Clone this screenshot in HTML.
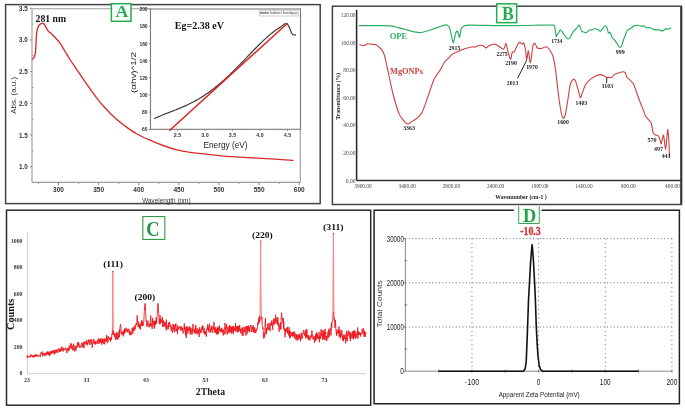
<!DOCTYPE html>
<html><head><meta charset="utf-8"><title>Figure</title>
<style>html,body{margin:0;padding:0;background:#fff;width:685px;height:408px;overflow:hidden;font-family:"Liberation Sans",sans-serif}svg{display:block;will-change:transform}</style>
</head><body>
<svg width="685" height="408" viewBox="0 0 685 408"><rect x="5.6" y="4.6" width="314.6" height="199" stroke="#444" stroke-width="1.5" fill="none"/>
<line x1="32" y1="8.7" x2="32" y2="182.4" stroke="#9c9c9c" stroke-width="1.1"/>
<line x1="32" y1="182.4" x2="300.3" y2="182.4" stroke="#9c9c9c" stroke-width="1.1"/>
<line x1="32" y1="8.7" x2="150.5" y2="8.7" stroke="#9c9c9c" stroke-width="1.1"/>
<line x1="300.3" y1="8.7" x2="300.3" y2="182.4" stroke="#9c9c9c" stroke-width="1.1"/>
<line x1="30" y1="8.3" x2="32" y2="8.3" stroke="#777" stroke-width="0.9"/>
<text x="27.9" y="10.8" font-family='"Liberation Sans", sans-serif' font-size="7.2" font-weight="bold" fill="#333" text-anchor="end" textLength="8.8" lengthAdjust="spacingAndGlyphs">3.5</text>
<line x1="30" y1="39.9" x2="32" y2="39.9" stroke="#777" stroke-width="0.9"/>
<text x="27.9" y="42.4" font-family='"Liberation Sans", sans-serif' font-size="7.2" font-weight="bold" fill="#333" text-anchor="end" textLength="8.8" lengthAdjust="spacingAndGlyphs">3.0</text>
<line x1="30" y1="71.6" x2="32" y2="71.6" stroke="#777" stroke-width="0.9"/>
<text x="27.9" y="74.1" font-family='"Liberation Sans", sans-serif' font-size="7.2" font-weight="bold" fill="#333" text-anchor="end" textLength="8.8" lengthAdjust="spacingAndGlyphs">2.5</text>
<line x1="30" y1="103.3" x2="32" y2="103.3" stroke="#777" stroke-width="0.9"/>
<text x="27.9" y="105.8" font-family='"Liberation Sans", sans-serif' font-size="7.2" font-weight="bold" fill="#333" text-anchor="end" textLength="8.8" lengthAdjust="spacingAndGlyphs">2.0</text>
<line x1="30" y1="135" x2="32" y2="135" stroke="#777" stroke-width="0.9"/>
<text x="27.9" y="137.5" font-family='"Liberation Sans", sans-serif' font-size="7.2" font-weight="bold" fill="#333" text-anchor="end" textLength="8.8" lengthAdjust="spacingAndGlyphs">1.5</text>
<line x1="30" y1="166.7" x2="32" y2="166.7" stroke="#777" stroke-width="0.9"/>
<text x="27.9" y="169.2" font-family='"Liberation Sans", sans-serif' font-size="7.2" font-weight="bold" fill="#333" text-anchor="end" textLength="8.8" lengthAdjust="spacingAndGlyphs">1.0</text>
<line x1="32" y1="24.05" x2="33.5" y2="24.05" stroke="#888" stroke-width="0.8"/>
<line x1="32" y1="55.75" x2="33.5" y2="55.75" stroke="#888" stroke-width="0.8"/>
<line x1="32" y1="87.45" x2="33.5" y2="87.45" stroke="#888" stroke-width="0.8"/>
<line x1="32" y1="119.15" x2="33.5" y2="119.15" stroke="#888" stroke-width="0.8"/>
<line x1="32" y1="150.85" x2="33.5" y2="150.85" stroke="#888" stroke-width="0.8"/>
<line x1="58.5" y1="182.4" x2="58.5" y2="185.2" stroke="#777" stroke-width="0.9"/>
<text x="58.5" y="192.3" font-family='"Liberation Sans", sans-serif' font-size="7.2" font-weight="bold" fill="#333" text-anchor="middle" textLength="10.9" lengthAdjust="spacingAndGlyphs">300</text>
<line x1="98.62" y1="182.4" x2="98.62" y2="185.2" stroke="#777" stroke-width="0.9"/>
<text x="98.62" y="192.3" font-family='"Liberation Sans", sans-serif' font-size="7.2" font-weight="bold" fill="#333" text-anchor="middle" textLength="10.9" lengthAdjust="spacingAndGlyphs">350</text>
<line x1="138.74" y1="182.4" x2="138.74" y2="185.2" stroke="#777" stroke-width="0.9"/>
<text x="138.74" y="192.3" font-family='"Liberation Sans", sans-serif' font-size="7.2" font-weight="bold" fill="#333" text-anchor="middle" textLength="10.9" lengthAdjust="spacingAndGlyphs">400</text>
<line x1="178.86" y1="182.4" x2="178.86" y2="185.2" stroke="#777" stroke-width="0.9"/>
<text x="178.86" y="192.3" font-family='"Liberation Sans", sans-serif' font-size="7.2" font-weight="bold" fill="#333" text-anchor="middle" textLength="10.9" lengthAdjust="spacingAndGlyphs">450</text>
<line x1="218.98" y1="182.4" x2="218.98" y2="185.2" stroke="#777" stroke-width="0.9"/>
<text x="218.98" y="192.3" font-family='"Liberation Sans", sans-serif' font-size="7.2" font-weight="bold" fill="#333" text-anchor="middle" textLength="10.9" lengthAdjust="spacingAndGlyphs">500</text>
<line x1="259.1" y1="182.4" x2="259.1" y2="185.2" stroke="#777" stroke-width="0.9"/>
<text x="259.1" y="192.3" font-family='"Liberation Sans", sans-serif' font-size="7.2" font-weight="bold" fill="#333" text-anchor="middle" textLength="10.9" lengthAdjust="spacingAndGlyphs">550</text>
<line x1="299.22" y1="182.4" x2="299.22" y2="185.2" stroke="#777" stroke-width="0.9"/>
<text x="299.22" y="192.3" font-family='"Liberation Sans", sans-serif' font-size="7.2" font-weight="bold" fill="#333" text-anchor="middle" textLength="10.9" lengthAdjust="spacingAndGlyphs">600</text>
<line x1="38.44" y1="182.4" x2="38.44" y2="184" stroke="#888" stroke-width="0.8"/>
<line x1="78.56" y1="182.4" x2="78.56" y2="184" stroke="#888" stroke-width="0.8"/>
<line x1="118.68" y1="182.4" x2="118.68" y2="184" stroke="#888" stroke-width="0.8"/>
<line x1="158.8" y1="182.4" x2="158.8" y2="184" stroke="#888" stroke-width="0.8"/>
<line x1="198.92" y1="182.4" x2="198.92" y2="184" stroke="#888" stroke-width="0.8"/>
<line x1="239.04" y1="182.4" x2="239.04" y2="184" stroke="#888" stroke-width="0.8"/>
<line x1="279.16" y1="182.4" x2="279.16" y2="184" stroke="#888" stroke-width="0.8"/>
<text x="142.3" y="203.2" font-family='"Liberation Sans", sans-serif' font-size="6.5" font-weight="normal" fill="#333" text-anchor="start" textLength="48.2" lengthAdjust="spacingAndGlyphs">Wavelength (nm)</text>
<text x="15.8" y="95.3" font-family='"Liberation Sans", sans-serif' font-size="7.6" font-weight="normal" fill="#333" text-anchor="middle" textLength="37" lengthAdjust="spacingAndGlyphs" transform="rotate(-90 15.8 95.3)">Abs. (a.u.)</text>
<path d="M32.2 59.3 C32.57 58.88 33.83 58.15 34.4 56.8 C34.97 55.45 35.23 55.08 35.6 51.2 C35.97 47.32 36.18 37.55 36.6 33.5 C37.02 29.45 37.6 28.37 38.1 26.9 C38.6 25.43 38.87 25.32 39.6 24.7 C40.33 24.08 41.77 23.32 42.5 23.2 C43.23 23.08 43.02 22.65 44 24 C44.98 25.35 47.18 29.72 48.4 31.3 C49.62 32.88 49.47 31.65 51.3 33.5 C53.13 35.35 57.25 39.65 59.4 42.4 C61.55 45.15 62.43 47.15 64.2 50 C65.97 52.85 67.75 56.03 70 59.5 C72.25 62.97 75.53 67.62 77.7 70.8 C79.87 73.98 81.17 75.93 83 78.6 C84.83 81.27 86.37 83.52 88.7 86.8 C91.03 90.08 94.13 94.63 97 98.3 C99.87 101.97 102.78 105.42 105.9 108.8 C109.02 112.18 112.52 115.73 115.7 118.6 C118.88 121.47 121.58 123.52 125 126 C128.42 128.48 132.03 131.13 136.2 133.5 C140.37 135.87 145.53 138.2 150 140.2 C154.47 142.2 158.5 143.88 163 145.5 C167.5 147.12 172.5 148.77 177 149.9 C181.5 151.03 185.52 151.63 190 152.3 C194.48 152.97 199.4 153.38 203.9 153.9 C208.4 154.42 212.5 154.95 217 155.4 C221.5 155.85 226.4 156.27 230.9 156.6 C235.4 156.93 239.52 157.15 244 157.4 C248.48 157.65 252.63 157.8 257.8 158.1 C262.97 158.4 269.17 158.82 275 159.2 C280.83 159.58 289.83 160.2 292.8 160.4" stroke="#d92b2b" stroke-width="1.35" fill="none" stroke-linejoin="round" stroke-linecap="round"/>
<text x="35.6" y="22.2" font-family='"Liberation Serif", serif' font-size="9.8" font-weight="bold" fill="#111" text-anchor="start" textLength="30.4" lengthAdjust="spacingAndGlyphs">281 nm</text>
<rect x="150.5" y="9" width="150" height="120.3" stroke="#7a7a7a" stroke-width="1.1" fill="#fff"/>
<line x1="148.8" y1="129.3" x2="150.5" y2="129.3" stroke="#777" stroke-width="0.8"/>
<text x="147.6" y="131.3" font-family='"Liberation Sans", sans-serif' font-size="5.8" font-weight="bold" fill="#333" text-anchor="end" textLength="5.5" lengthAdjust="spacingAndGlyphs">60</text>
<line x1="148.8" y1="112.14" x2="150.5" y2="112.14" stroke="#777" stroke-width="0.8"/>
<text x="147.6" y="114.14" font-family='"Liberation Sans", sans-serif' font-size="5.8" font-weight="bold" fill="#333" text-anchor="end" textLength="5.5" lengthAdjust="spacingAndGlyphs">80</text>
<line x1="148.8" y1="94.98" x2="150.5" y2="94.98" stroke="#777" stroke-width="0.8"/>
<text x="147.6" y="96.98" font-family='"Liberation Sans", sans-serif' font-size="5.8" font-weight="bold" fill="#333" text-anchor="end" textLength="8.2" lengthAdjust="spacingAndGlyphs">100</text>
<line x1="148.8" y1="77.82" x2="150.5" y2="77.82" stroke="#777" stroke-width="0.8"/>
<text x="147.6" y="79.82" font-family='"Liberation Sans", sans-serif' font-size="5.8" font-weight="bold" fill="#333" text-anchor="end" textLength="8.2" lengthAdjust="spacingAndGlyphs">120</text>
<line x1="148.8" y1="60.66" x2="150.5" y2="60.66" stroke="#777" stroke-width="0.8"/>
<text x="147.6" y="62.66" font-family='"Liberation Sans", sans-serif' font-size="5.8" font-weight="bold" fill="#333" text-anchor="end" textLength="8.2" lengthAdjust="spacingAndGlyphs">140</text>
<line x1="148.8" y1="43.5" x2="150.5" y2="43.5" stroke="#777" stroke-width="0.8"/>
<text x="147.6" y="45.5" font-family='"Liberation Sans", sans-serif' font-size="5.8" font-weight="bold" fill="#333" text-anchor="end" textLength="8.2" lengthAdjust="spacingAndGlyphs">160</text>
<line x1="148.8" y1="26.34" x2="150.5" y2="26.34" stroke="#777" stroke-width="0.8"/>
<text x="147.6" y="28.34" font-family='"Liberation Sans", sans-serif' font-size="5.8" font-weight="bold" fill="#333" text-anchor="end" textLength="8.2" lengthAdjust="spacingAndGlyphs">180</text>
<line x1="148.8" y1="9.18" x2="150.5" y2="9.18" stroke="#777" stroke-width="0.8"/>
<text x="147.6" y="11.18" font-family='"Liberation Sans", sans-serif' font-size="5.8" font-weight="bold" fill="#333" text-anchor="end" textLength="8.2" lengthAdjust="spacingAndGlyphs">200</text>
<line x1="149.6" y1="120.72" x2="150.5" y2="120.72" stroke="#888" stroke-width="0.6"/>
<line x1="149.6" y1="103.56" x2="150.5" y2="103.56" stroke="#888" stroke-width="0.6"/>
<line x1="149.6" y1="86.4" x2="150.5" y2="86.4" stroke="#888" stroke-width="0.6"/>
<line x1="149.6" y1="69.24" x2="150.5" y2="69.24" stroke="#888" stroke-width="0.6"/>
<line x1="149.6" y1="52.08" x2="150.5" y2="52.08" stroke="#888" stroke-width="0.6"/>
<line x1="149.6" y1="34.92" x2="150.5" y2="34.92" stroke="#888" stroke-width="0.6"/>
<line x1="149.6" y1="17.76" x2="150.5" y2="17.76" stroke="#888" stroke-width="0.6"/>
<line x1="177.4" y1="129.3" x2="177.4" y2="131" stroke="#777" stroke-width="0.8"/>
<text x="177.4" y="136.8" font-family='"Liberation Sans", sans-serif' font-size="5.8" font-weight="bold" fill="#333" text-anchor="middle" textLength="7.4" lengthAdjust="spacingAndGlyphs">2.5</text>
<line x1="204.9" y1="129.3" x2="204.9" y2="131" stroke="#777" stroke-width="0.8"/>
<text x="204.9" y="136.8" font-family='"Liberation Sans", sans-serif' font-size="5.8" font-weight="bold" fill="#333" text-anchor="middle" textLength="7.4" lengthAdjust="spacingAndGlyphs">3.0</text>
<line x1="232.4" y1="129.3" x2="232.4" y2="131" stroke="#777" stroke-width="0.8"/>
<text x="232.4" y="136.8" font-family='"Liberation Sans", sans-serif' font-size="5.8" font-weight="bold" fill="#333" text-anchor="middle" textLength="7.4" lengthAdjust="spacingAndGlyphs">3.5</text>
<line x1="259.9" y1="129.3" x2="259.9" y2="131" stroke="#777" stroke-width="0.8"/>
<text x="259.9" y="136.8" font-family='"Liberation Sans", sans-serif' font-size="5.8" font-weight="bold" fill="#333" text-anchor="middle" textLength="7.4" lengthAdjust="spacingAndGlyphs">4.0</text>
<line x1="287.4" y1="129.3" x2="287.4" y2="131" stroke="#777" stroke-width="0.8"/>
<text x="287.4" y="136.8" font-family='"Liberation Sans", sans-serif' font-size="5.8" font-weight="bold" fill="#333" text-anchor="middle" textLength="7.4" lengthAdjust="spacingAndGlyphs">4.5</text>
<line x1="163.65" y1="129.3" x2="163.65" y2="130.3" stroke="#888" stroke-width="0.6"/>
<line x1="191.15" y1="129.3" x2="191.15" y2="130.3" stroke="#888" stroke-width="0.6"/>
<line x1="218.65" y1="129.3" x2="218.65" y2="130.3" stroke="#888" stroke-width="0.6"/>
<line x1="246.15" y1="129.3" x2="246.15" y2="130.3" stroke="#888" stroke-width="0.6"/>
<line x1="273.65" y1="129.3" x2="273.65" y2="130.3" stroke="#888" stroke-width="0.6"/>
<text x="203.4" y="147.6" font-family='"Liberation Sans", sans-serif' font-size="8.4" font-weight="normal" fill="#222" text-anchor="start" textLength="44.2" lengthAdjust="spacingAndGlyphs">Energy (eV)</text>
<text x="136.2" y="72.5" font-family='"Liberation Sans", sans-serif' font-size="7.8" font-weight="normal" fill="#222" text-anchor="middle" textLength="41" lengthAdjust="spacingAndGlyphs" transform="rotate(-90 136.2 72.5)">(&#945;hv)^1/2</text>
<rect x="259.3" y="10.8" width="39.2" height="5.2" stroke="#b0b0b0" stroke-width="0.6" fill="#fff"/>
<line x1="259.8" y1="12.9" x2="268.9" y2="12.9" stroke="#555" stroke-width="1.2"/>
<text x="269.7" y="14.4" font-family='"Liberation Sans", sans-serif' font-size="4" font-weight="normal" fill="#444" text-anchor="start" textLength="27.8" lengthAdjust="spacingAndGlyphs">Indirect bandgap</text>
<path d="M154.6 118.42 C154.93 118.26 155.93 117.8 156.6 117.5 C157.27 117.2 157.93 116.91 158.6 116.62 C159.27 116.33 159.93 116.05 160.6 115.78 C161.27 115.5 161.93 115.23 162.6 114.96 C163.27 114.69 163.93 114.43 164.6 114.16 C165.27 113.9 165.93 113.64 166.6 113.38 C167.27 113.12 167.93 112.87 168.6 112.61 C169.27 112.35 169.93 112.1 170.6 111.84 C171.27 111.59 171.93 111.33 172.6 111.07 C173.27 110.81 173.93 110.56 174.6 110.29 C175.27 110.03 175.93 109.77 176.6 109.5 C177.27 109.24 177.93 108.97 178.6 108.7 C179.27 108.43 179.93 108.15 180.6 107.87 C181.27 107.59 181.93 107.31 182.6 107.02 C183.27 106.73 183.93 106.44 184.6 106.14 C185.27 105.85 185.93 105.54 186.6 105.23 C187.27 104.93 187.93 104.61 188.6 104.29 C189.27 103.97 189.93 103.64 190.6 103.31 C191.27 102.97 191.93 102.63 192.6 102.29 C193.27 101.94 193.93 101.58 194.6 101.22 C195.27 100.86 195.93 100.49 196.6 100.11 C197.27 99.74 197.93 99.35 198.6 98.96 C199.27 98.57 199.93 98.16 200.6 97.76 C201.27 97.35 201.93 96.93 202.6 96.5 C203.27 96.08 203.93 95.65 204.6 95.2 C205.27 94.76 205.93 94.31 206.6 93.85 C207.27 93.39 207.93 92.93 208.6 92.45 C209.27 91.97 209.93 91.49 210.6 91 C211.27 90.5 211.93 90 212.6 89.49 C213.27 88.98 213.93 88.46 214.6 87.94 C215.27 87.41 215.93 86.88 216.6 86.33 C217.27 85.79 217.93 85.24 218.6 84.68 C219.27 84.12 219.93 83.55 220.6 82.98 C221.27 82.41 221.93 81.82 222.6 81.23 C223.27 80.64 223.93 80.05 224.6 79.44 C225.27 78.84 225.93 78.23 226.6 77.61 C227.27 76.99 227.93 76.37 228.6 75.73 C229.27 75.1 229.93 74.47 230.6 73.82 C231.27 73.18 231.93 72.53 232.6 71.88 C233.27 71.22 233.93 70.56 234.6 69.9 C235.27 69.24 235.93 68.57 236.6 67.9 C237.27 67.22 237.93 66.55 238.6 65.87 C239.27 65.19 239.93 64.5 240.6 63.82 C241.27 63.13 241.93 62.44 242.6 61.75 C243.27 61.06 243.93 60.37 244.6 59.67 C245.27 58.98 245.93 58.28 246.6 57.59 C247.27 56.89 247.93 56.19 248.6 55.5 C249.27 54.8 249.93 54.11 250.6 53.42 C251.27 52.72 251.93 52.03 252.6 51.34 C253.27 50.65 253.93 49.96 254.6 49.28 C255.27 48.6 255.93 47.92 256.6 47.24 C257.27 46.57 257.93 45.89 258.6 45.23 C259.27 44.56 259.93 43.9 260.6 43.25 C261.27 42.6 261.93 41.95 262.6 41.31 C263.27 40.67 263.93 40.04 264.6 39.42 C265.27 38.8 265.93 38.19 266.6 37.59 C267.27 36.99 267.93 36.4 268.6 35.82 C269.27 35.24 269.93 34.67 270.6 34.12 C271.27 33.56 271.93 33.02 272.6 32.5 C273.27 31.97 273.93 31.46 274.6 30.96 C275.27 30.47 275.93 29.99 276.6 29.53 C277.27 29.07 277.93 28.62 278.6 28.2 C279.27 27.77 279.93 27.43 280.6 26.98 C281.27 26.53 281.95 26 282.6 25.5 C283.25 25 283.9 24.32 284.5 24 C285.1 23.68 285.65 23.5 286.2 23.6 C286.75 23.7 287.33 24.07 287.8 24.6 C288.27 25.13 288.58 25.92 289 26.8 C289.42 27.68 289.87 28.87 290.3 29.9 C290.73 30.93 291.15 32.22 291.6 33 C292.05 33.78 292.35 34.23 293 34.6 C293.65 34.97 295.08 35.1 295.5 35.2" stroke="#3a3a3a" stroke-width="1.2" fill="none" stroke-linejoin="round" stroke-linecap="round"/>
<line x1="169.3" y1="130.7" x2="287.5" y2="23.2" stroke="#e01f1f" stroke-width="1.5"/>
<text x="174.8" y="28.7" font-family='"Liberation Serif", serif' font-size="10" font-weight="bold" fill="#111" text-anchor="start" textLength="49.2" lengthAdjust="spacingAndGlyphs">Eg=2.38 eV</text>
<rect x="111.4" y="3.7" width="19.6" height="17.6" stroke="#1fae4b" stroke-width="1.5" fill="#fff"/>
<text x="121.85" y="17.4" font-family='"Liberation Serif", serif' font-size="17" font-weight="bold" fill="#1fae4b" text-anchor="middle" textLength="12.9" lengthAdjust="spacingAndGlyphs">A</text>
<rect x="332.4" y="6.2" width="348.9" height="198.3" stroke="#444" stroke-width="1.5" fill="none"/>
<line x1="681.3" y1="6.2" x2="681.3" y2="204.5" stroke="#333" stroke-width="2"/>
<line x1="356.6" y1="9.8" x2="356.6" y2="180.5" stroke="#222" stroke-width="1.5"/>
<line x1="356.6" y1="180.5" x2="681.3" y2="180.5" stroke="#333" stroke-width="1.4"/>
<text x="355.5" y="182.5" font-family='"Liberation Serif", serif' font-size="6.5" font-weight="normal" fill="#444" text-anchor="end" textLength="9.8" lengthAdjust="spacingAndGlyphs">0.00</text>
<text x="355.5" y="154.9" font-family='"Liberation Serif", serif' font-size="6.5" font-weight="normal" fill="#444" text-anchor="end" textLength="12.2" lengthAdjust="spacingAndGlyphs">20.00</text>
<text x="355.5" y="127.3" font-family='"Liberation Serif", serif' font-size="6.5" font-weight="normal" fill="#444" text-anchor="end" textLength="12.2" lengthAdjust="spacingAndGlyphs">40.00</text>
<text x="355.5" y="99.7" font-family='"Liberation Serif", serif' font-size="6.5" font-weight="normal" fill="#444" text-anchor="end" textLength="12.2" lengthAdjust="spacingAndGlyphs">60.00</text>
<text x="355.5" y="72.1" font-family='"Liberation Serif", serif' font-size="6.5" font-weight="normal" fill="#444" text-anchor="end" textLength="12.2" lengthAdjust="spacingAndGlyphs">80.00</text>
<text x="355.5" y="44.5" font-family='"Liberation Serif", serif' font-size="6.5" font-weight="normal" fill="#444" text-anchor="end" textLength="14.7" lengthAdjust="spacingAndGlyphs">100.00</text>
<text x="355.5" y="16.9" font-family='"Liberation Serif", serif' font-size="6.5" font-weight="normal" fill="#444" text-anchor="end" textLength="14.7" lengthAdjust="spacingAndGlyphs">120.00</text>
<text x="363" y="188" font-family='"Liberation Serif", serif' font-size="5.6" font-weight="normal" fill="#444" text-anchor="middle" textLength="17.4" lengthAdjust="spacingAndGlyphs">3900.00</text>
<text x="407.2" y="188" font-family='"Liberation Serif", serif' font-size="5.6" font-weight="normal" fill="#444" text-anchor="middle" textLength="17.4" lengthAdjust="spacingAndGlyphs">3400.00</text>
<text x="451.4" y="188" font-family='"Liberation Serif", serif' font-size="5.6" font-weight="normal" fill="#444" text-anchor="middle" textLength="17.4" lengthAdjust="spacingAndGlyphs">2900.00</text>
<text x="495.6" y="188" font-family='"Liberation Serif", serif' font-size="5.6" font-weight="normal" fill="#444" text-anchor="middle" textLength="17.4" lengthAdjust="spacingAndGlyphs">2400.00</text>
<text x="539.8" y="188" font-family='"Liberation Serif", serif' font-size="5.6" font-weight="normal" fill="#444" text-anchor="middle" textLength="17.4" lengthAdjust="spacingAndGlyphs">1900.00</text>
<text x="584" y="188" font-family='"Liberation Serif", serif' font-size="5.6" font-weight="normal" fill="#444" text-anchor="middle" textLength="17.4" lengthAdjust="spacingAndGlyphs">1400.00</text>
<text x="628.2" y="188" font-family='"Liberation Serif", serif' font-size="5.6" font-weight="normal" fill="#444" text-anchor="middle" textLength="14.8" lengthAdjust="spacingAndGlyphs">900.00</text>
<text x="672.4" y="188" font-family='"Liberation Serif", serif' font-size="5.6" font-weight="normal" fill="#444" text-anchor="middle" textLength="14.8" lengthAdjust="spacingAndGlyphs">400.00</text>
<text x="495.3" y="199.2" font-family='"Liberation Serif", serif' font-size="6" font-weight="bold" fill="#222" text-anchor="start" textLength="51.3" lengthAdjust="spacingAndGlyphs">Wavenumber (cm-1 )</text>
<text x="340.2" y="96.3" font-family='"Liberation Serif", serif' font-size="5.6" font-weight="bold" fill="#222" text-anchor="middle" textLength="47" lengthAdjust="spacingAndGlyphs" transform="rotate(-90 340.2 96.3)">Transmittance (%)</text>
<path d="M359.4 25.7 C361.48 25.7 370.8 25.67 375 25.7 C379.2 25.73 386.9 25.39 390.9 25.9 C394.9 26.41 401.16 28.61 405 29.5 C408.84 30.39 416.1 32.6 419.7 32.6 C423.3 32.6 428.71 30.5 432 29.5 C435.29 28.5 442.2 25.55 444.4 25.1 C446.6 24.65 447.69 25.29 448.5 26.1 C449.31 26.91 449.87 29 450.5 31.2 C451.13 33.4 452.57 42.07 453.2 42.6 C453.83 43.13 454.75 36.72 455.2 35.2 C455.65 33.68 456.24 31.65 456.6 31.2 C456.96 30.75 457.51 30.97 457.9 31.8 C458.29 32.63 459.05 37.84 459.5 37.4 C459.95 36.96 460.62 30.05 461.3 28.5 C461.98 26.95 463.44 26.25 464.6 25.8 C465.76 25.35 465.28 25.13 470 25.1 C474.72 25.07 492.67 25.55 500 25.6 C507.33 25.65 519.67 25.57 525 25.5 C530.33 25.43 536.2 25.15 540 25.1 C543.8 25.05 551.53 24.83 553.5 25.1 C555.47 25.37 554.44 25.57 554.8 27.1 C555.16 28.63 555.84 35.69 556.2 36.6 C556.56 37.51 557.14 34.45 557.5 33.9 C557.86 33.35 558.54 33.05 558.9 32.5 C559.26 31.95 559.84 29.97 560.2 29.8 C560.56 29.63 561.15 30.65 561.6 31.2 C562.05 31.75 563.07 33.18 563.6 33.9 C564.13 34.62 564.97 35.92 565.6 36.6 C566.23 37.28 567.67 38.92 568.3 39 C568.93 39.08 569.67 38.16 570.3 37.2 C570.93 36.24 572.19 32.96 573 31.8 C573.81 30.64 575.59 29.39 576.4 28.5 C577.21 27.61 578.57 25.19 579.1 25.1 C579.63 25.01 580.04 26.99 580.4 27.8 C580.76 28.61 581.25 30.6 581.8 31.2 C582.35 31.8 583.87 32.13 584.5 32.3 C585.13 32.47 586.06 32.62 586.5 32.5 C586.94 32.38 587.35 31.76 587.8 31.4 C588.25 31.04 589.35 30.01 589.9 29.8 C590.45 29.59 591.46 29.88 591.9 29.8 C592.34 29.72 592.75 29.37 593.2 29.2 C593.65 29.03 594.75 28.5 595.3 28.5 C595.85 28.5 596.77 28.93 597.3 29.2 C597.83 29.47 598.86 30.25 599.3 30.5 C599.74 30.75 599.85 31.71 600.6 31.1 C601.35 30.49 604.07 26.39 604.9 25.9 C605.73 25.41 606.33 26.45 606.8 27.4 C607.27 28.35 607.96 32.33 608.4 33 C608.84 33.67 609.57 31.73 610.1 32.4 C610.63 33.07 611.76 36.93 612.4 38 C613.04 39.07 613.83 39.13 614.9 40.4 C615.97 41.67 619.16 47.82 620.4 47.5 C621.64 47.18 623.28 40.27 624.2 38 C625.12 35.73 626.47 31.75 627.3 30.5 C628.13 29.25 629.49 29.21 630.4 28.6 C631.31 27.99 632.95 26.31 634.1 25.9 C635.25 25.49 637.93 25.43 639 25.5 C640.07 25.57 641.43 26.35 642.1 26.4 C642.77 26.45 643.49 25.77 644 25.9 C644.51 26.03 644.99 27.12 645.9 27.4 C646.81 27.68 649.73 27.71 650.8 28 C651.87 28.29 652.82 29.35 653.9 29.6 C654.98 29.85 657.74 29.73 658.9 29.9 C660.06 30.07 661.61 31.07 662.6 30.9 C663.59 30.73 665.55 28.81 666.3 28.6 C667.05 28.39 667.61 29.38 668.2 29.3 C668.79 29.22 670.37 28.17 670.7 28" stroke="#2fae68" stroke-width="1.2" fill="none" stroke-linejoin="round" stroke-linecap="round"/>
<path d="M359.7 44.8 C360.31 44.89 363.22 45.63 364.3 45.5 C365.38 45.37 366.87 43.96 367.8 43.8 C368.73 43.64 370.22 44.17 371.3 44.3 C372.38 44.43 374.66 44.24 375.9 44.8 C377.14 45.36 379.6 47.49 380.6 48.5 C381.6 49.51 382.79 51.09 383.4 52.4 C384.01 53.71 384.49 55.35 385.2 58.3 C385.91 61.25 387.61 69.54 388.7 74.5 C389.79 79.46 392 90.22 393.4 95.5 C394.8 100.78 397.65 110.54 399.2 114.1 C400.75 117.66 403.83 120.87 405 122.2 C406.17 123.53 407.23 124.1 408 124.1 C408.77 124.1 409.49 123.07 410.8 122.2 C412.11 121.33 416.25 119 417.8 117.6 C419.35 116.2 421 114.65 422.4 111.7 C423.8 108.75 426.74 99.83 428.3 95.5 C429.86 91.17 432.49 82.65 434.1 79.2 C435.71 75.75 439.03 71.87 440.4 69.6 C441.77 67.33 443.32 63.73 444.4 62.2 C445.48 60.67 447.42 59.18 448.5 58.1 C449.58 57.02 451.42 54.9 452.5 54.1 C453.58 53.3 455.33 52.67 456.6 52.1 C457.87 51.53 460.57 50.35 462 49.8 C463.43 49.25 465.87 48.41 467.3 48 C468.73 47.59 471.7 46.79 472.7 46.7 C473.7 46.61 474.08 47.43 474.8 47.3 C475.52 47.17 477.21 45.97 478.1 45.7 C478.99 45.43 480.78 45.26 481.5 45.3 C482.22 45.34 482.87 45.64 483.5 46 C484.13 46.36 485.48 48.04 486.2 48 C486.92 47.96 487.67 46.21 488.9 45.7 C490.13 45.19 493.45 43.75 495.4 44.2 C497.35 44.65 502.1 49.21 503.5 49.1 C504.9 48.99 505.37 43.31 505.9 43.4 C506.43 43.49 506.89 47.68 507.5 49.8 C508.11 51.92 509.87 58.94 510.5 59.3 C511.13 59.66 511.69 53.5 512.2 52.5 C512.71 51.5 513.66 52.69 514.3 51.8 C514.94 50.91 516.29 47.05 517 45.8 C517.71 44.55 518.89 42.61 519.6 42.4 C520.31 42.19 521.75 44.11 522.3 44.2 C522.85 44.29 523.25 42.17 523.7 43.1 C524.15 44.03 525.3 48.96 525.7 51.2 C526.1 53.44 526.34 59.94 526.7 59.9 C527.06 59.86 527.91 50.54 528.4 50.9 C528.89 51.26 529.77 63.37 530.4 62.6 C531.03 61.83 532.46 47.61 533.1 45.1 C533.74 42.59 534.65 43.44 535.2 43.8 C535.75 44.16 536.4 47.17 537.2 47.8 C538 48.43 540.03 48.65 541.2 48.5 C542.37 48.35 545.09 46.77 546 46.7 C546.91 46.63 547.27 47.2 548 48 C548.73 48.8 550.77 51.35 551.5 52.7 C552.23 54.05 552.97 55.85 553.5 58.1 C554.03 60.35 554.85 64.77 555.5 69.6 C556.15 74.43 557.67 88.71 558.4 94.3 C559.13 99.89 560.37 108.3 561 111.5 C561.63 114.7 562.53 117.85 563.1 118.3 C563.67 118.75 564.66 117.41 565.3 114.9 C565.94 112.39 567.22 103.62 567.9 99.5 C568.58 95.38 569.65 86.71 570.4 84 C571.15 81.29 572.81 79.55 573.5 79.2 C574.19 78.85 574.97 79.96 575.6 81.4 C576.23 82.84 577.56 87.83 578.2 90 C578.84 92.17 579.84 97.35 580.4 97.7 C580.96 98.05 581.67 94.43 582.4 92.6 C583.13 90.77 584.75 85.83 585.9 84 C587.05 82.17 589.63 79.99 591 78.9 C592.37 77.81 594.93 76.37 596.2 75.8 C597.47 75.23 599.47 74.6 600.5 74.6 C601.53 74.6 603.1 75.41 603.9 75.8 C604.7 76.19 605.82 77.31 606.5 77.5 C607.18 77.69 608.32 77.17 609 77.2 C609.68 77.23 610.91 78.05 611.6 77.7 C612.29 77.35 613.28 75.24 614.2 74.6 C615.12 73.96 617.29 73.29 618.5 72.9 C619.71 72.51 622.39 71.7 623.3 71.7 C624.21 71.7 624.81 72.17 625.3 72.9 C625.79 73.63 626.31 76.17 627 77.2 C627.69 78.23 629.58 79.57 630.5 80.6 C631.42 81.63 632.71 82.27 633.9 84.9 C635.09 87.53 638.2 97.1 639.4 100.3 C640.6 103.5 642.1 106.85 642.9 108.9 C643.7 110.95 644.6 114.22 645.4 115.7 C646.2 117.18 648.1 118.97 648.9 120 C649.7 121.03 650.95 122.25 651.4 123.4 C651.85 124.55 652.06 127.29 652.3 128.6 C652.54 129.91 652.75 132.36 653.2 133.2 C653.65 134.04 655.02 134.54 655.7 134.9 C656.38 135.26 657.73 135.26 658.3 135.9 C658.87 136.54 659.61 138.62 660 139.7 C660.39 140.78 660.91 144 661.2 144 C661.49 144 661.91 140.91 662.2 139.7 C662.49 138.49 663.12 134.9 663.4 134.9 C663.68 134.9 664.02 137.79 664.3 139.7 C664.58 141.61 665.21 148.96 665.5 149.2 C665.79 149.44 666.21 144.13 666.5 141.5 C666.79 138.87 667.39 129.74 667.7 129.5 C668.01 129.26 668.56 136.05 668.8 139.7 C669.04 143.35 669.41 154.61 669.5 156.9" stroke="#cc4040" stroke-width="1.1" fill="none" stroke-linejoin="round" stroke-linecap="round"/>
<line x1="517.6" y1="78.4" x2="526.7" y2="60.2" stroke="#111" stroke-width="0.9"/>
<line x1="606.9" y1="77.4" x2="606.5" y2="83.2" stroke="#111" stroke-width="0.9"/>
<text x="454.5" y="49.9" font-family='"Liberation Serif", serif' font-size="5.6" font-weight="bold" fill="#222" text-anchor="middle" textLength="11.6" lengthAdjust="spacingAndGlyphs">2915</text>
<text x="556.8" y="42.9" font-family='"Liberation Serif", serif' font-size="5.6" font-weight="bold" fill="#222" text-anchor="middle" textLength="11.2" lengthAdjust="spacingAndGlyphs">1734</text>
<text x="620.3" y="54.3" font-family='"Liberation Serif", serif' font-size="5.6" font-weight="bold" fill="#222" text-anchor="middle" textLength="9" lengthAdjust="spacingAndGlyphs">999</text>
<text x="409" y="130" font-family='"Liberation Serif", serif' font-size="5.6" font-weight="bold" fill="#222" text-anchor="middle" textLength="11.6" lengthAdjust="spacingAndGlyphs">3363</text>
<text x="502" y="55.9" font-family='"Liberation Serif", serif' font-size="5.6" font-weight="bold" fill="#222" text-anchor="middle" textLength="11.2" lengthAdjust="spacingAndGlyphs">2275</text>
<text x="511.1" y="65.3" font-family='"Liberation Serif", serif' font-size="5.6" font-weight="bold" fill="#222" text-anchor="middle" textLength="11.9" lengthAdjust="spacingAndGlyphs">2190</text>
<text x="532" y="69.3" font-family='"Liberation Serif", serif' font-size="5.6" font-weight="bold" fill="#222" text-anchor="middle" textLength="11.7" lengthAdjust="spacingAndGlyphs">1970</text>
<text x="512.6" y="85.2" font-family='"Liberation Serif", serif' font-size="5.6" font-weight="bold" fill="#222" text-anchor="middle" textLength="11.5" lengthAdjust="spacingAndGlyphs">2013</text>
<text x="563.1" y="124.3" font-family='"Liberation Serif", serif' font-size="5.6" font-weight="bold" fill="#222" text-anchor="middle" textLength="11.6" lengthAdjust="spacingAndGlyphs">1600</text>
<text x="581.4" y="104.9" font-family='"Liberation Serif", serif' font-size="5.6" font-weight="bold" fill="#222" text-anchor="middle" textLength="11.6" lengthAdjust="spacingAndGlyphs">1403</text>
<text x="607.4" y="88.1" font-family='"Liberation Serif", serif' font-size="5.6" font-weight="bold" fill="#222" text-anchor="middle" textLength="11.3" lengthAdjust="spacingAndGlyphs">1103</text>
<text x="652" y="141.8" font-family='"Liberation Serif", serif' font-size="5.6" font-weight="bold" fill="#222" text-anchor="middle" textLength="9.2" lengthAdjust="spacingAndGlyphs">570</text>
<text x="658.5" y="151.3" font-family='"Liberation Serif", serif' font-size="5.6" font-weight="bold" fill="#222" text-anchor="middle" textLength="9" lengthAdjust="spacingAndGlyphs">497</text>
<text x="666" y="157.5" font-family='"Liberation Serif", serif' font-size="5.6" font-weight="bold" fill="#222" text-anchor="middle" textLength="8.7" lengthAdjust="spacingAndGlyphs">443</text>
<text x="389.7" y="38.6" font-family='"Liberation Serif", serif' font-size="8.8" font-weight="bold" fill="#2fae68" text-anchor="start" textLength="17.4" lengthAdjust="spacingAndGlyphs">OPE</text>
<text x="390.1" y="73.5" font-family='"Liberation Serif", serif' font-size="8.8" font-weight="bold" fill="#cc4040" text-anchor="start" textLength="32.8" lengthAdjust="spacingAndGlyphs">MgONPs</text>
<rect x="496.65" y="3.85" width="20" height="18.8" stroke="#1fae4b" stroke-width="1.5" fill="rgba(255,255,255,0.85)"/>
<text x="507.8" y="19.9" font-family='"Liberation Serif", serif' font-size="19" font-weight="bold" fill="#1fae4b" text-anchor="middle" textLength="11.8" lengthAdjust="spacingAndGlyphs">B</text>
<rect x="6.5" y="210.2" width="364.2" height="195" stroke="#2a2a2a" stroke-width="1.5" fill="none"/>
<line x1="27.4" y1="232" x2="27.4" y2="373.7" stroke="#cfcfcf" stroke-width="1"/>
<line x1="27.4" y1="373.7" x2="365.6" y2="373.7" stroke="#cfcfcf" stroke-width="1"/>
<text x="22.5" y="375.4" font-family='"Liberation Serif", serif' font-size="5.6" font-weight="bold" fill="#333" text-anchor="end" textLength="2.9" lengthAdjust="spacingAndGlyphs">0</text>
<text x="22.5" y="348.82" font-family='"Liberation Serif", serif' font-size="5.6" font-weight="bold" fill="#333" text-anchor="end" textLength="8.7" lengthAdjust="spacingAndGlyphs">200</text>
<text x="22.5" y="322.24" font-family='"Liberation Serif", serif' font-size="5.6" font-weight="bold" fill="#333" text-anchor="end" textLength="8.7" lengthAdjust="spacingAndGlyphs">400</text>
<text x="22.5" y="295.66" font-family='"Liberation Serif", serif' font-size="5.6" font-weight="bold" fill="#333" text-anchor="end" textLength="8.7" lengthAdjust="spacingAndGlyphs">600</text>
<text x="22.5" y="269.08" font-family='"Liberation Serif", serif' font-size="5.6" font-weight="bold" fill="#333" text-anchor="end" textLength="8.7" lengthAdjust="spacingAndGlyphs">800</text>
<text x="22.5" y="242.5" font-family='"Liberation Serif", serif' font-size="5.6" font-weight="bold" fill="#333" text-anchor="end" textLength="11.6" lengthAdjust="spacingAndGlyphs">1000</text>
<text x="27" y="382.4" font-family='"Liberation Serif", serif' font-size="5.6" font-weight="bold" fill="#333" text-anchor="middle" textLength="5.8" lengthAdjust="spacingAndGlyphs">23</text>
<text x="86.5" y="382.4" font-family='"Liberation Serif", serif' font-size="5.6" font-weight="bold" fill="#333" text-anchor="middle" textLength="5.8" lengthAdjust="spacingAndGlyphs">33</text>
<text x="146" y="382.4" font-family='"Liberation Serif", serif' font-size="5.6" font-weight="bold" fill="#333" text-anchor="middle" textLength="5.8" lengthAdjust="spacingAndGlyphs">43</text>
<text x="205.5" y="382.4" font-family='"Liberation Serif", serif' font-size="5.6" font-weight="bold" fill="#333" text-anchor="middle" textLength="5.8" lengthAdjust="spacingAndGlyphs">53</text>
<text x="265" y="382.4" font-family='"Liberation Serif", serif' font-size="5.6" font-weight="bold" fill="#333" text-anchor="middle" textLength="5.8" lengthAdjust="spacingAndGlyphs">63</text>
<text x="324.5" y="382.4" font-family='"Liberation Serif", serif' font-size="5.6" font-weight="bold" fill="#333" text-anchor="middle" textLength="5.8" lengthAdjust="spacingAndGlyphs">73</text>
<text x="195.8" y="395" font-family='"Liberation Serif", serif' font-size="10" font-weight="bold" fill="#222" text-anchor="start" textLength="29.2" lengthAdjust="spacingAndGlyphs">2Theta</text>
<text x="13.6" y="314.3" font-family='"Liberation Serif", serif' font-size="10.2" font-weight="bold" fill="#111" text-anchor="middle" textLength="31.3" lengthAdjust="spacingAndGlyphs" transform="rotate(-90 13.6 314.3)">Counts</text>
<text x="113" y="266.6" font-family='"Liberation Serif", serif' font-size="8.6" font-weight="bold" fill="#111" text-anchor="middle" textLength="19.7" lengthAdjust="spacingAndGlyphs">(111)</text>
<text x="144.9" y="300.3" font-family='"Liberation Serif", serif' font-size="8.6" font-weight="bold" fill="#111" text-anchor="middle" textLength="20.8" lengthAdjust="spacingAndGlyphs">(200)</text>
<text x="262.4" y="237.9" font-family='"Liberation Serif", serif' font-size="8.6" font-weight="bold" fill="#111" text-anchor="middle" textLength="20.8" lengthAdjust="spacingAndGlyphs">(220)</text>
<text x="333.3" y="229.8" font-family='"Liberation Serif", serif' font-size="8.6" font-weight="bold" fill="#111" text-anchor="middle" textLength="20.6" lengthAdjust="spacingAndGlyphs">(311)</text>
<rect x="142.85" y="216.55" width="22" height="22.9" stroke="#2f9a4a" stroke-width="1.1" fill="#fff"/>
<text x="152.8" y="235.7" font-family='"Liberation Serif", serif' font-size="20.5" font-weight="bold" fill="#1f9440" text-anchor="middle" textLength="13.3" lengthAdjust="spacingAndGlyphs">C</text>
<path d="M27 355.77 L27.22 357.99 L27.44 356.42 L27.66 356.08 L27.88 355.91 L28.1 356.29 L28.32 355.98 L28.54 356.84 L28.76 356.8 L28.98 356.81 L29.2 356.49 L29.42 357.21 L29.64 356.25 L29.86 356.93 L30.08 357.11 L30.3 357.23 L30.52 354.66 L30.74 355.49 L30.96 355.12 L31.18 356.35 L31.4 354.64 L31.62 355.38 L31.84 355.9 L32.06 355.68 L32.28 356.87 L32.5 355.79 L32.72 356.73 L32.94 355.2 L33.16 354.96 L33.38 357.72 L33.6 356.71 L33.82 356.43 L34.04 355.96 L34.26 356.21 L34.48 354.92 L34.7 356.79 L34.92 355.31 L35.14 356.31 L35.36 355.4 L35.58 354.02 L35.8 354.34 L36.02 356.55 L36.24 355.57 L36.46 354.86 L36.68 355.51 L36.9 355.37 L37.12 354.62 L37.34 355.19 L37.56 355.28 L37.78 356.34 L38 355.27 L38.22 356.96 L38.44 356.47 L38.66 356.76 L38.88 356.39 L39.1 355.8 L39.32 356.17 L39.54 355.84 L39.76 355.15 L39.98 355.19 L40.2 354.79 L40.42 356.64 L40.64 355.4 L40.86 354.02 L41.08 352.34 L41.3 354.03 L41.52 354.19 L41.74 352.84 L41.96 352.4 L42.18 351.55 L42.4 354.87 L42.62 354.42 L42.84 356.3 L43.06 352.93 L43.28 353.12 L43.5 354.57 L43.72 353.01 L43.94 353.54 L44.16 353.43 L44.38 353.2 L44.6 355.35 L44.82 354.92 L45.04 356.09 L45.26 354 L45.48 354.35 L45.7 353.38 L45.92 354.5 L46.14 352.43 L46.36 354.62 L46.58 355.15 L46.8 354.56 L47.02 351.84 L47.24 354.27 L47.46 351.66 L47.68 351.61 L47.9 351.44 L48.12 353.57 L48.34 354.75 L48.56 352.5 L48.78 352.17 L49 352.68 L49.22 355.91 L49.44 354.23 L49.66 352.88 L49.88 351.12 L50.1 352.11 L50.32 354.5 L50.54 355.15 L50.76 352.37 L50.98 352.24 L51.2 352.9 L51.42 351 L51.64 353.45 L51.86 351.15 L52.08 353.49 L52.3 350.24 L52.52 351.28 L52.74 352.52 L52.96 351.78 L53.18 352.9 L53.4 351.69 L53.62 350.6 L53.84 353.06 L54.06 353.52 L54.28 350.28 L54.5 354.46 L54.72 352.79 L54.94 353.15 L55.16 349.81 L55.38 351.08 L55.6 351.57 L55.82 353.05 L56.04 350.18 L56.26 350.87 L56.48 350.08 L56.7 351.97 L56.92 352.15 L57.14 349.31 L57.36 350.42 L57.58 351.96 L57.8 352.9 L58.02 351.78 L58.24 351.19 L58.46 348.74 L58.68 348.51 L58.9 348.98 L59.12 350.15 L59.34 349.96 L59.56 351.83 L59.78 350.38 L60 348.72 L60.22 351.65 L60.44 351.91 L60.66 350.75 L60.88 349.24 L61.1 347.6 L61.32 348.46 L61.54 350.8 L61.76 347.38 L61.98 346.7 L62.2 349.26 L62.42 348.88 L62.64 349.47 L62.86 350.09 L63.08 351.47 L63.3 349.17 L63.52 350.59 L63.74 347.87 L63.96 349.93 L64.18 349.57 L64.4 350.11 L64.62 349.72 L64.84 349.04 L65.06 349.87 L65.28 349.97 L65.5 348.33 L65.72 347.61 L65.94 347.98 L66.16 348.16 L66.38 348.63 L66.6 349.16 L66.82 353.13 L67.04 349.8 L67.26 350.57 L67.48 348.6 L67.7 348.35 L67.92 349.92 L68.14 349.62 L68.36 348.09 L68.58 351.27 L68.8 348.1 L69.02 350.47 L69.24 345.59 L69.46 348.87 L69.68 348.27 L69.9 347.34 L70.12 348.27 L70.34 347.33 L70.56 346.74 L70.78 343.27 L71 345.78 L71.22 343.89 L71.44 348.77 L71.66 347.68 L71.88 346.9 L72.1 345.39 L72.32 346.15 L72.54 350.37 L72.76 349.58 L72.98 347.71 L73.2 349.92 L73.42 345.41 L73.64 343.71 L73.86 346.55 L74.08 345.81 L74.3 345.88 L74.52 347.16 L74.74 351.48 L74.96 346.76 L75.18 347.08 L75.4 347.92 L75.62 348.04 L75.84 349.91 L76.06 350.69 L76.28 345.51 L76.5 347.94 L76.72 347.1 L76.94 347.86 L77.16 345.55 L77.38 344.74 L77.6 342.45 L77.82 346.56 L78.04 345.14 L78.26 345.6 L78.48 342.11 L78.7 344.83 L78.92 344.29 L79.14 343.75 L79.36 344.46 L79.58 347.55 L79.8 347.05 L80.02 346.54 L80.24 347.87 L80.46 346.59 L80.68 346.77 L80.9 346.84 L81.12 346.24 L81.34 344.54 L81.56 343.36 L81.78 344.13 L82 342.67 L82.22 347.33 L82.44 344.6 L82.66 344.52 L82.88 347.2 L83.1 346.01 L83.32 342.29 L83.54 345.72 L83.76 346.07 L83.98 348.09 L84.2 346.78 L84.42 344.98 L84.64 341.47 L84.86 342.57 L85.08 343.37 L85.3 343.49 L85.52 341.68 L85.74 343.12 L85.96 342.98 L86.18 344.08 L86.4 344.44 L86.62 342.58 L86.84 340.12 L87.06 344.01 L87.28 345.32 L87.5 342.24 L87.72 343.71 L87.94 342.49 L88.16 342.21 L88.38 342.22 L88.6 339.77 L88.82 342.61 L89.04 342.24 L89.26 339.7 L89.48 344.5 L89.7 343.92 L89.92 344.38 L90.14 344.81 L90.36 341.66 L90.58 339.76 L90.8 339.95 L91.02 339.64 L91.24 341.99 L91.46 342.32 L91.68 343.94 L91.9 339.42 L92.12 347.58 L92.34 347.67 L92.56 343.65 L92.78 343.33 L93 343.49 L93.22 343.52 L93.44 341.34 L93.66 339.51 L93.8 339 L93.88 339.16 L94.1 340.69 L94.32 343.68 L94.54 341.21 L94.76 343.02 L94.98 343.91 L95.2 344.37 L95.42 341.39 L95.64 344.21 L95.86 344.25 L96.08 343.28 L96.3 341.55 L96.52 341.64 L96.74 341.82 L96.96 343.22 L97.18 343.93 L97.4 340.61 L97.62 340.32 L97.84 342.14 L98.06 341.21 L98.28 338.69 L98.5 340.79 L98.72 342.44 L98.94 343.93 L99.16 338.53 L99.38 339.28 L99.6 342.34 L99.82 340.14 L100.04 342.59 L100.26 342.72 L100.48 341.97 L100.7 338.79 L100.92 341.26 L101.14 340.84 L101.36 341.5 L101.58 340.11 L101.8 344.68 L102.02 338.16 L102.24 340.38 L102.46 340.85 L102.68 342.66 L102.9 339.31 L103.12 340.8 L103.34 340.13 L103.56 343.04 L103.78 343.82 L104 338.72 L104.22 341.5 L104.44 339.32 L104.66 343.86 L104.88 344.35 L105.1 340.99 L105.32 338.58 L105.54 339.81 L105.76 340.78 L105.98 340.73 L106.2 340.62 L106.42 334.97 L106.64 337.19 L106.86 341.65 L107.08 336.7 L107.3 341.66 L107.52 343.12 L107.74 340.54 L107.96 341.68 L108.18 338.66 L108.4 336.17 L108.62 337.94 L108.84 337.81 L109.06 338.08 L109.28 339.72 L109.5 338.07 L109.72 338.88 L109.94 339.25 L110.16 337.53 L110.38 341.65 L110.6 339.55 L110.82 338.9 L111.04 337.89 L111.26 337.08 L111.48 340.05 L111.7 336.12 L111.92 333.73 L112.14 334.12 L112.36 334.43 L112.58 310.99 L112.8 271 L113.02 308.68 L113.24 334.51 L113.46 334.93 L113.68 331.53 L113.9 333.9 L114.12 334.39 L114.34 336.23 L114.56 334.5 L114.78 337.18 L115 333.42 L115.22 334.37 L115.44 338.48 L115.66 339.94 L115.88 337.99 L116.1 337 L116.32 339.19 L116.54 332.12 L116.76 335.15 L116.98 337.75 L117.2 338.31 L117.42 334.89 L117.64 333.39 L117.86 339.74 L118.08 338.25 L118.3 335.91 L118.52 336.61 L118.74 337.43 L118.96 330.86 L119.18 337.21 L119.4 335.89 L119.62 329.37 L119.84 332.92 L120.06 326.03 L120.28 325.74 L120.5 324 L120.72 326.26 L120.94 327.8 L121.16 330.75 L121.38 334.54 L121.6 331.75 L121.82 331.87 L122.04 332.75 L122.26 333.39 L122.48 331.96 L122.7 334.67 L122.92 334.58 L123.14 333.83 L123.36 336.39 L123.58 331.95 L123.8 334.19 L124.02 330.12 L124.24 333.73 L124.46 328.53 L124.68 333.08 L124.9 332.07 L125.12 330.29 L125.34 331.52 L125.56 332.25 L125.78 331.98 L126 327.73 L126.22 330.8 L126.44 329.39 L126.66 330.14 L126.88 329.66 L127.1 330.11 L127.32 332.24 L127.54 330.67 L127.76 328.95 L127.98 331.96 L128.2 330.97 L128.42 331.08 L128.64 331.24 L128.86 328.87 L129.08 330.15 L129.3 333.83 L129.52 331.14 L129.74 333.41 L129.96 335.32 L130.18 334.18 L130.4 332.48 L130.62 334.55 L130.84 331.52 L131.06 333.76 L131.28 334.79 L131.5 334.42 L131.72 333.35 L131.94 328.43 L132.16 328.21 L132.38 329.54 L132.6 331.59 L132.82 333.64 L133.04 327.07 L133.26 330.82 L133.48 328.4 L133.7 328.39 L133.92 328.76 L134.14 330.77 L134.36 327.84 L134.58 329.6 L134.8 325.32 L135.02 328.42 L135.24 328.91 L135.46 327.26 L135.68 327.09 L135.9 324.77 L136.12 323.43 L136.34 324.91 L136.56 323.48 L136.78 324.33 L137 316.92 L137.2 315.5 L137.22 315.52 L137.44 317.95 L137.66 322.96 L137.88 323.24 L138.1 326.88 L138.32 326 L138.54 321.61 L138.76 325.56 L138.98 325.69 L139.2 325.37 L139.42 328.16 L139.64 324.46 L139.86 326.25 L140.08 328.63 L140.3 324.55 L140.52 329.59 L140.74 323.46 L140.96 324.07 L141.18 325.55 L141.4 321.22 L141.62 323.29 L141.84 320.17 L142.06 325.22 L142.28 322.21 L142.5 325.75 L142.72 321.65 L142.94 326.04 L143.16 324.27 L143.38 324.14 L143.6 323.23 L143.82 321.18 L144.04 316.87 L144.26 311.39 L144.48 310.11 L144.7 305.81 L144.92 303.5 L145 303.3 L145.14 303.8 L145.36 306.78 L145.58 310.84 L145.8 314.4 L146.02 320.04 L146.24 321.64 L146.46 320.54 L146.68 321.8 L146.9 326.71 L147.12 323.12 L147.34 325.65 L147.56 324.76 L147.78 320.64 L148 321.61 L148.22 324.39 L148.44 324.66 L148.66 325.11 L148.88 325.84 L149.1 327.35 L149.32 324.15 L149.54 323.87 L149.76 326.57 L149.98 323.67 L150.2 325.57 L150.42 318.72 L150.64 315.84 L150.7 315.5 L150.86 316.9 L151.08 324.61 L151.3 326.76 L151.52 325.85 L151.74 323.3 L151.96 323.21 L152.18 329.02 L152.4 324.88 L152.62 317.98 L152.84 322.53 L153.06 320.81 L153.28 324.45 L153.5 323.72 L153.72 322.76 L153.94 322.86 L154.16 327.07 L154.38 320.98 L154.6 328.62 L154.82 322.09 L155.04 320.9 L155.26 325.14 L155.48 324.74 L155.7 320.64 L155.92 323.48 L156.14 317.64 L156.36 318.86 L156.58 323.73 L156.8 319.95 L157.02 315.72 L157.24 314.9 L157.46 310.58 L157.68 305.86 L157.9 303.52 L158 303.3 L158.12 303.7 L158.34 306.58 L158.56 312.53 L158.78 314.52 L159 317.21 L159.22 321.83 L159.44 323.76 L159.66 319.05 L159.88 324.21 L160.1 315.32 L160.32 323.4 L160.54 319.82 L160.76 322.54 L160.98 322.98 L161.2 319.36 L161.42 320.27 L161.64 320.63 L161.86 321.86 L162.08 318.15 L162.3 317.81 L162.52 316.93 L162.74 326.93 L162.96 321.91 L163.18 322.83 L163.4 320.46 L163.62 326.43 L163.84 323.1 L164.06 326.44 L164.28 325.29 L164.5 323.99 L164.72 325.37 L164.94 321.52 L165.16 324.26 L165.38 323.32 L165.6 322.71 L165.82 327.38 L166.04 326.62 L166.26 330.44 L166.48 319.63 L166.7 326.95 L166.92 326.41 L167.14 327.85 L167.36 328.95 L167.58 328.72 L167.8 327.74 L168.02 325.14 L168.24 328.68 L168.46 329.05 L168.68 322.54 L168.9 326.85 L169.12 324.12 L169.34 324 L169.56 322.91 L169.7 322 L169.78 322.28 L170 324.24 L170.22 326.7 L170.44 324.87 L170.66 327 L170.88 327.13 L171.1 330.34 L171.32 330.9 L171.54 326.51 L171.76 327.44 L171.98 328 L172.2 330.02 L172.42 333.07 L172.64 330.48 L172.86 324.08 L173.08 325.24 L173.3 324.24 L173.52 328.82 L173.74 327.95 L173.96 327.67 L174.18 331.19 L174.4 325 L174.62 325.61 L174.84 332.19 L175.06 328.54 L175.28 325.82 L175.5 323.95 L175.72 326.22 L175.94 323.57 L176.16 329.96 L176.38 329.09 L176.6 331.3 L176.82 329.24 L177.04 329.01 L177.26 328.25 L177.48 334.12 L177.7 325.6 L177.92 328.77 L178.14 328.56 L178.36 329.5 L178.58 327.6 L178.8 328.9 L179.02 328.32 L179.24 326.63 L179.46 326.52 L179.68 327 L179.9 326.21 L180.12 327.87 L180.34 327.29 L180.56 329.08 L180.78 330.54 L181 330.25 L181.22 326.49 L181.44 329.93 L181.66 329.18 L181.88 330.64 L182.1 328.41 L182.32 329.37 L182.54 329.05 L182.76 327.54 L182.98 333.3 L183.2 333.36 L183.42 331.64 L183.64 331.05 L183.86 331.31 L184.08 328.3 L184.3 323.4 L184.52 330 L184.74 329.7 L184.96 328.41 L185.18 329.48 L185.4 334.46 L185.62 326.91 L185.84 335.76 L186.06 332.93 L186.28 337.99 L186.5 329.02 L186.72 330.09 L186.94 325.96 L187.16 328.64 L187.38 327.68 L187.6 327.39 L187.82 333.56 L188.04 328.79 L188.26 329 L188.48 330.98 L188.7 327.64 L188.92 327.48 L189.14 330.1 L189.36 328.44 L189.58 326.43 L189.8 329.06 L190.02 329.58 L190.24 334.52 L190.46 327.49 L190.68 332.92 L190.9 328.37 L191.12 328.33 L191.34 329.7 L191.56 331.37 L191.78 331.8 L192 334.84 L192.22 329.17 L192.44 332.18 L192.66 330.56 L192.88 325.28 L193 324 L193.1 324.99 L193.32 328.43 L193.54 329.9 L193.76 329.54 L193.98 331.77 L194.2 332.57 L194.42 332.9 L194.64 329.66 L194.86 333.09 L195.08 333.74 L195.3 327.84 L195.52 331.88 L195.74 325 L195.96 330.49 L196.18 331.89 L196.4 333.66 L196.62 330.6 L196.84 330.08 L197.06 328.78 L197.28 328.13 L197.5 334.24 L197.72 331.34 L197.94 330.81 L198.16 332.77 L198.38 329.47 L198.6 329.94 L198.82 329.78 L199.04 335.75 L199.26 336.97 L199.48 331.74 L199.7 327.35 L199.92 332.08 L200.14 330.4 L200.36 331.46 L200.58 332.36 L200.8 329.75 L201.02 333.16 L201.24 331.46 L201.46 330.67 L201.68 327.81 L201.9 327.27 L202.12 330 L202.34 325.58 L202.56 328.96 L202.78 327.7 L203 325.86 L203.22 331.38 L203.44 331.18 L203.66 331.09 L203.88 333.26 L204.1 328.24 L204.32 331.59 L204.54 331.02 L204.76 334.4 L204.98 331.06 L205.2 333.06 L205.42 331.53 L205.64 334.48 L205.86 334.52 L206.08 333.28 L206.3 336.59 L206.52 330.12 L206.74 329.12 L206.96 330.15 L207.18 327.53 L207.4 328.92 L207.62 324.52 L207.84 327.45 L208.06 328.94 L208.28 330.36 L208.5 327.83 L208.72 331.76 L208.94 326.29 L209.16 327.62 L209.38 323.66 L209.6 326.16 L209.82 326.46 L210.04 332.93 L210.26 331.71 L210.48 329.09 L210.7 331.99 L210.92 331.33 L211.14 327.44 L211.36 330.02 L211.58 328.58 L211.8 328.08 L212.02 325.64 L212.24 328.51 L212.46 332.43 L212.68 332.85 L212.9 327.25 L213.12 326.74 L213.34 329.22 L213.56 329.39 L213.78 325.35 L214 322 L214.22 325.66 L214.44 328.86 L214.66 332.41 L214.88 329.77 L215.1 327.74 L215.32 330.75 L215.54 332.87 L215.76 327.42 L215.98 329.65 L216.2 333.44 L216.42 330.47 L216.64 329.32 L216.86 334.56 L217.08 330.99 L217.3 331.76 L217.52 327.87 L217.74 334.33 L217.96 326.71 L218.18 329.19 L218.4 333.19 L218.62 333.91 L218.84 327.79 L219.06 329.09 L219.28 330.99 L219.5 325.46 L219.72 331.03 L219.94 330.63 L220.16 328.8 L220.38 331.39 L220.6 330.83 L220.82 330.18 L221.04 330.86 L221.26 332.37 L221.48 328.4 L221.7 329.69 L221.92 327.81 L222.14 332.29 L222.36 329.89 L222.58 331.14 L222.8 330.6 L223.02 329.53 L223.24 335.45 L223.46 330.35 L223.68 334.73 L223.9 332.39 L224.12 334.06 L224.34 332.02 L224.56 330.9 L224.78 326.37 L225 323 L225.22 326.01 L225.44 328.03 L225.66 330.75 L225.88 333.77 L226.1 327.3 L226.32 325.8 L226.54 324.12 L226.76 328.39 L226.98 327.42 L227.2 329.2 L227.42 331.62 L227.64 334.38 L227.86 329.58 L228.08 328.62 L228.3 327.13 L228.52 330.98 L228.74 332.09 L228.96 332.87 L229.18 325.38 L229.4 332.56 L229.62 332.08 L229.84 330.22 L230.06 325.68 L230.28 329.14 L230.5 331.9 L230.72 329.18 L230.94 326.63 L231.16 327.01 L231.38 333.62 L231.6 326.94 L231.82 333.08 L232.04 329.68 L232.26 331.03 L232.48 326.57 L232.7 329.2 L232.92 331.33 L233.14 326.34 L233.36 334.2 L233.58 326.09 L233.8 325.91 L234.02 327.66 L234.24 329.97 L234.46 330.92 L234.68 327.85 L234.9 328.52 L235.12 329.35 L235.34 327.61 L235.56 322.86 L235.78 331.82 L236 330.6 L236.22 330.04 L236.44 326.42 L236.66 329.95 L236.88 329.73 L237.1 329.66 L237.32 332.3 L237.54 325.95 L237.76 330.35 L237.98 326.51 L238.2 327.97 L238.42 332.17 L238.64 325.96 L238.86 327.78 L239.08 327.73 L239.3 330.65 L239.52 327.16 L239.74 324.95 L239.96 330.89 L240.18 330.28 L240.4 330.53 L240.62 333.19 L240.84 328.65 L241.06 330.05 L241.28 329.83 L241.5 330.24 L241.72 328.5 L241.94 332.02 L242.16 335.2 L242.38 329.72 L242.6 335.78 L242.82 326.99 L243.04 335.56 L243.26 330.84 L243.48 331.74 L243.7 330.2 L243.92 329.12 L244.14 327.39 L244.36 328 L244.58 331.99 L244.8 331.85 L245.02 327.69 L245.24 327.55 L245.46 327.81 L245.68 326.57 L245.9 335.53 L246.12 330.32 L246.34 329.04 L246.56 326.22 L246.78 326.23 L247 334.18 L247.22 330.46 L247.44 326.61 L247.66 331.73 L247.88 326.47 L248.1 331.09 L248.32 325.3 L248.54 327.6 L248.76 330.15 L248.98 330 L249.2 330.85 L249.42 327.08 L249.64 332.33 L249.86 331.99 L250.08 328.32 L250.3 327.6 L250.52 325.05 L250.74 327.04 L250.96 325.13 L251.18 327.78 L251.4 328.2 L251.62 331.58 L251.84 330.78 L252.06 331.5 L252.28 330.17 L252.5 329.22 L252.72 327.06 L252.94 329.24 L253.16 325.4 L253.38 332.32 L253.6 327.14 L253.82 328.74 L254.04 329.25 L254.26 328.76 L254.48 333.04 L254.7 327.44 L254.92 330.98 L255.14 332.67 L255.36 330.37 L255.58 331.63 L255.8 333.04 L256.02 329.42 L256.24 329.78 L256.46 329.48 L256.68 330.74 L256.9 328.5 L257.12 329.02 L257.34 328.01 L257.56 326.74 L257.78 322.54 L258 322.51 L258.22 324.71 L258.44 321.82 L258.66 318.91 L258.88 322.74 L259.1 317.22 L259.32 320.93 L259.54 316.06 L259.76 322.22 L259.98 315.39 L260.2 315.08 L260.42 275.23 L260.6 240.5 L260.64 242.6 L260.86 290.95 L261.08 310.84 L261.3 318.73 L261.52 319.59 L261.74 319.42 L261.96 317.31 L262.18 325.4 L262.4 326.81 L262.62 327.34 L262.84 328.61 L263.06 327.66 L263.28 331.57 L263.5 338.29 L263.72 337.83 L263.94 332.73 L264.16 333.21 L264.38 336.88 L264.6 337.56 L264.82 335.43 L265.04 327.65 L265.26 321.08 L265.4 318.3 L265.48 319 L265.7 326.14 L265.92 330.56 L266.14 334.26 L266.36 329.98 L266.58 333.29 L266.8 328.14 L267.02 329.46 L267.24 329.96 L267.46 326.95 L267.68 326.62 L267.9 323.92 L268.12 330.03 L268.34 329.84 L268.56 328.64 L268.78 329.26 L269 322.77 L269.22 328.43 L269.44 328.33 L269.66 327.67 L269.88 329.27 L270.1 331.11 L270.32 324.9 L270.54 323.42 L270.76 324.68 L270.98 324.39 L271.2 325.16 L271.42 321.7 L271.64 325.43 L271.86 320.35 L272.08 325.4 L272.3 325.96 L272.52 326.05 L272.74 329.77 L272.96 322.16 L273.18 323.79 L273.4 324.82 L273.62 325.22 L273.84 318.63 L274.06 322.23 L274.28 318.74 L274.5 322.1 L274.72 324.26 L274.94 321.11 L275.16 320.93 L275.38 320.84 L275.6 314.78 L275.82 323.07 L276.04 321.25 L276.26 320.72 L276.48 319.29 L276.7 318.24 L276.92 319.88 L277.14 323.94 L277.36 320.19 L277.58 324.26 L277.8 317.09 L278.02 323.42 L278.24 325.76 L278.46 326 L278.68 322.8 L278.9 325.89 L279.12 331.72 L279.34 326.01 L279.56 324.91 L279.78 325.03 L280 325.75 L280.22 329.31 L280.44 328.55 L280.66 322.19 L280.88 329.58 L281.1 320.3 L281.32 314.77 L281.5 312.7 L281.54 312.7 L281.76 313.98 L281.98 317.86 L282.2 319.46 L282.42 318.15 L282.64 319.11 L282.86 323.18 L283.08 321.75 L283.3 317.91 L283.52 328.81 L283.74 321.9 L283.96 326.96 L284.18 328.21 L284.4 330.54 L284.62 328.58 L284.84 332.32 L285.06 337.28 L285.28 331.67 L285.5 328.86 L285.72 332.13 L285.94 329.28 L286.16 329.79 L286.38 330.07 L286.6 330.31 L286.82 327.94 L287.04 332.25 L287.26 330.51 L287.48 326.93 L287.7 333.5 L287.92 331.3 L288.14 333.36 L288.36 330.84 L288.58 334.5 L288.8 335.64 L289.02 327.21 L289.24 330.6 L289.46 331.9 L289.68 338.11 L289.9 330.51 L290.12 338.11 L290.34 337.18 L290.56 334.91 L290.78 334.53 L291 331.8 L291.22 332.89 L291.44 334.19 L291.66 335.16 L291.88 336.07 L292.1 333.51 L292.32 332.24 L292.54 333.69 L292.76 336.75 L292.98 331.91 L293.2 332.6 L293.42 335.98 L293.64 334.97 L293.86 336.16 L294.08 331.37 L294.3 336.39 L294.52 337.17 L294.74 338.43 L294.96 332.78 L295.18 336.78 L295.4 337.16 L295.62 337.95 L295.84 338.92 L296.06 339.86 L296.28 334.25 L296.5 338.18 L296.72 336.21 L296.94 334.84 L297.16 340.67 L297.38 335.07 L297.6 335.19 L297.82 336.19 L298.04 335.24 L298.26 337.21 L298.48 337.07 L298.7 339.58 L298.92 335.76 L299.14 333.7 L299.36 338.24 L299.58 335.17 L299.8 334.55 L300.02 336.6 L300.24 336.69 L300.46 341.26 L300.68 336.28 L300.9 338.66 L301.12 336.94 L301.34 332.71 L301.56 333.91 L301.78 336.47 L302 338.85 L302.22 338.79 L302.44 338.05 L302.66 335.2 L302.88 333.31 L303.1 333.98 L303.32 330.44 L303.54 330.02 L303.6 330 L303.76 330.18 L303.98 332.15 L304.2 332.71 L304.42 333.75 L304.64 335.75 L304.86 334.77 L305.08 334.97 L305.3 330.68 L305.52 336.64 L305.74 334.36 L305.96 338.42 L306.18 329.25 L306.4 334.02 L306.62 336.8 L306.84 329.43 L307.06 334.4 L307.28 336.56 L307.5 337.76 L307.72 335.35 L307.94 338.49 L308.16 337.06 L308.38 335.02 L308.6 339.95 L308.82 338.07 L309.04 336.96 L309.26 336.56 L309.48 339.49 L309.7 338.63 L309.92 340.36 L310.14 338.77 L310.36 336.64 L310.58 336.74 L310.8 337.67 L311.02 334.99 L311.24 337.18 L311.46 337.41 L311.68 336.38 L311.9 330.5 L312.12 336.17 L312.34 336.01 L312.56 336.27 L312.78 335.36 L313 339.47 L313.22 337.76 L313.44 337.36 L313.66 337.14 L313.88 339.54 L314.1 336.96 L314.32 336.24 L314.54 342.71 L314.76 339.73 L314.98 339.35 L315.2 341.04 L315.42 339.27 L315.64 333.81 L315.86 340.15 L316.08 340.16 L316.3 336.95 L316.52 332.08 L316.74 339.27 L316.96 338.63 L317.18 333.75 L317.4 334.83 L317.62 337.48 L317.84 336.49 L318.06 338.13 L318.28 336.69 L318.5 338.91 L318.72 336.83 L318.94 331.82 L319.16 332.59 L319.38 342.31 L319.6 336.06 L319.82 338.44 L320.04 336.54 L320.26 338.64 L320.48 334.93 L320.7 333.49 L320.92 334.21 L321.14 329.39 L321.36 333.24 L321.58 335.88 L321.8 330.1 L322.02 336.6 L322.24 338.56 L322.46 339.88 L322.68 332.99 L322.9 333.31 L323.12 330.07 L323.34 331.5 L323.56 335.97 L323.78 339.18 L324 331.13 L324.22 336.6 L324.44 333 L324.66 331.97 L324.88 339.98 L325.1 328.95 L325.32 334.07 L325.54 332.69 L325.76 338.05 L325.98 338.77 L326.2 340.32 L326.42 336.06 L326.64 339.21 L326.86 340.69 L327.08 337.75 L327.3 337.9 L327.52 336.76 L327.74 334.37 L327.96 331.86 L328.18 338.18 L328.4 332.51 L328.62 329.23 L328.84 333.98 L329.06 331.71 L329.28 333.23 L329.5 336.53 L329.72 331.89 L329.94 328.94 L330.16 327.92 L330.38 331.08 L330.6 330.73 L330.82 330.25 L331.04 335.47 L331.26 326.7 L331.48 322.62 L331.7 328.41 L331.92 324.51 L332.14 322.55 L332.36 322.3 L332.58 320.91 L332.8 319.59 L333.02 313.34 L333.24 264.27 L333.4 233 L333.46 238.02 L333.68 295.52 L333.9 315.77 L334.12 320.41 L334.34 320.58 L334.56 318.35 L334.78 321.8 L335 327.78 L335.22 324.65 L335.44 319.99 L335.66 325.1 L335.88 329.44 L336.1 331.8 L336.32 332.84 L336.54 335.81 L336.76 334.26 L336.98 329.46 L337.2 333.67 L337.42 332.59 L337.64 333.28 L337.86 331.99 L338.08 330.61 L338.3 330.28 L338.52 332.99 L338.74 330.81 L338.96 326.57 L339.18 336.57 L339.4 330.67 L339.62 332.19 L339.84 336.71 L340.06 329.54 L340.28 338.34 L340.5 333.87 L340.72 336.88 L340.94 335.04 L341.16 335.67 L341.38 335.81 L341.6 335.12 L341.82 330.16 L342.04 332.75 L342.26 335.36 L342.48 340.42 L342.7 336.06 L342.92 339.6 L343.14 337.43 L343.36 339.02 L343.58 341.13 L343.8 334.51 L344.02 338.27 L344.24 338.95 L344.46 338.11 L344.68 335.88 L344.9 335.13 L345.12 334.74 L345.34 334.63 L345.56 343.23 L345.78 342.55 L346 337.77 L346.22 339.65 L346.44 336.45 L346.66 330.79 L346.88 333.78 L347.1 339.73 L347.32 341.15 L347.54 336.46 L347.76 333.31 L347.98 333.78 L348.2 332.84 L348.42 330.64 L348.64 334.45 L348.86 335.66 L349.08 333.38 L349.3 333.27 L349.52 331.87 L349.74 335.92 L349.96 338.42 L350.18 334.74 L350.4 341.03 L350.62 332.5 L350.84 336.88 L351.06 333.6 L351.28 335.64 L351.5 336.55 L351.72 336.76 L351.94 338.46 L352.16 332.98 L352.38 331.38 L352.6 335.99 L352.82 337.24 L353.04 333.78 L353.26 338.03 L353.48 339.21 L353.7 330.58 L353.92 334.7 L354.14 337.38 L354.36 330.89 L354.58 336.05 L354.8 334.33 L355.02 330.77 L355.24 338.87 L355.46 336.49 L355.68 334.01 L355.9 334.6 L356.12 334.4 L356.34 337.42 L356.56 336.07 L356.78 335.85 L357 332.44 L357.22 334.26 L357.44 335.47 L357.66 327.48 L357.88 338.69 L358.1 334.5 L358.32 332.26 L358.54 331.27 L358.76 334.75 L358.98 334.21 L359.2 333.14 L359.42 334.51 L359.64 332.3 L359.86 333.2 L360.08 335.02 L360.3 332.93 L360.52 336.5 L360.74 333.65 L360.96 333.67 L361.18 334.46 L361.4 334.34 L361.62 333.15 L361.84 331.82 L362.06 330.13 L362.28 328.84 L362.5 331.16 L362.72 333.59 L362.94 333.86 L363.16 331.42 L363.38 328.25 L363.6 329.47 L363.82 334.31 L364.04 336.78 L364.26 334.34 L364.48 330.84 L364.7 333.8 L364.92 335.41 L365.14 332.66 L365.36 336.74 L365.58 334.71 L365.8 332.32" stroke="#ee1a1f" stroke-width="0.9" fill="none" stroke-linejoin="round" stroke-linecap="round" stroke-linejoin="miter"/>
<line x1="112.8" y1="272" x2="112.8" y2="330" stroke="rgba(255,255,255,0.45)" stroke-width="1.6"/>
<line x1="260.6" y1="241.5" x2="260.6" y2="316" stroke="rgba(255,255,255,0.45)" stroke-width="1.6"/>
<line x1="333.4" y1="234" x2="333.4" y2="312" stroke="rgba(255,255,255,0.45)" stroke-width="1.6"/>
<path d="M513.8 210.3 L374.1 210.3 L374.1 403.8 L679.4 403.8 L679.4 210.3 L541.6 210.3" stroke="#222" stroke-width="1.5" fill="none"/>
<line x1="405.4" y1="238.5" x2="405.4" y2="371.2" stroke="#8a8a8a" stroke-width="1"/>
<line x1="405.4" y1="371.2" x2="671.6" y2="371.2" stroke="#8a8a8a" stroke-width="1"/>
<line x1="405.4" y1="327" x2="671.6" y2="327" stroke="#5a5a5a" stroke-width="0.9" stroke-dasharray="1 2.36"/>
<line x1="405.4" y1="282.8" x2="671.6" y2="282.8" stroke="#5a5a5a" stroke-width="0.9" stroke-dasharray="1 2.36"/>
<line x1="405.4" y1="238.6" x2="671.6" y2="238.6" stroke="#5a5a5a" stroke-width="0.9" stroke-dasharray="1 2.36"/>
<line x1="471.95" y1="238.5" x2="471.95" y2="371.2" stroke="#5a5a5a" stroke-width="0.9" stroke-dasharray="1 3.4"/>
<line x1="538.6" y1="238.5" x2="538.6" y2="371.2" stroke="#5a5a5a" stroke-width="0.9" stroke-dasharray="1 3.4"/>
<line x1="605.25" y1="238.5" x2="605.25" y2="371.2" stroke="#5a5a5a" stroke-width="0.9" stroke-dasharray="1 3.4"/>
<line x1="671.9" y1="238.5" x2="671.9" y2="371.2" stroke="#5a5a5a" stroke-width="0.9" stroke-dasharray="1 3.4"/>
<line x1="403.6" y1="371.2" x2="405.4" y2="371.2" stroke="#666" stroke-width="0.8"/>
<text x="403.8" y="374.1" font-family='"Liberation Sans", sans-serif' font-size="8.4" font-weight="normal" fill="#222" text-anchor="end" textLength="3.6" lengthAdjust="spacingAndGlyphs">0</text>
<line x1="403.6" y1="327" x2="405.4" y2="327" stroke="#666" stroke-width="0.8"/>
<text x="403.8" y="329.9" font-family='"Liberation Sans", sans-serif' font-size="8.4" font-weight="normal" fill="#222" text-anchor="end" textLength="17" lengthAdjust="spacingAndGlyphs">10000</text>
<line x1="403.6" y1="282.8" x2="405.4" y2="282.8" stroke="#666" stroke-width="0.8"/>
<text x="403.8" y="285.7" font-family='"Liberation Sans", sans-serif' font-size="8.4" font-weight="normal" fill="#222" text-anchor="end" textLength="17" lengthAdjust="spacingAndGlyphs">20000</text>
<line x1="403.6" y1="238.6" x2="405.4" y2="238.6" stroke="#666" stroke-width="0.8"/>
<text x="403.8" y="241.5" font-family='"Liberation Sans", sans-serif' font-size="8.4" font-weight="normal" fill="#222" text-anchor="end" textLength="17" lengthAdjust="spacingAndGlyphs">30000</text>
<line x1="404.4" y1="349.1" x2="407.2" y2="349.1" stroke="#666" stroke-width="0.8"/>
<line x1="404.4" y1="304.9" x2="407.2" y2="304.9" stroke="#666" stroke-width="0.8"/>
<line x1="404.4" y1="260.7" x2="407.2" y2="260.7" stroke="#666" stroke-width="0.8"/>
<line x1="438.62" y1="369.6" x2="438.62" y2="372.6" stroke="#666" stroke-width="0.8"/>
<line x1="505.28" y1="369.6" x2="505.28" y2="372.6" stroke="#666" stroke-width="0.8"/>
<line x1="571.93" y1="369.6" x2="571.93" y2="372.6" stroke="#666" stroke-width="0.8"/>
<line x1="638.58" y1="369.6" x2="638.58" y2="372.6" stroke="#666" stroke-width="0.8"/>
<line x1="471.95" y1="369.6" x2="471.95" y2="372.6" stroke="#666" stroke-width="0.8"/>
<text x="471.95" y="384.5" font-family='"Liberation Sans", sans-serif' font-size="8.4" font-weight="normal" fill="#222" text-anchor="middle" textLength="14.4" lengthAdjust="spacingAndGlyphs">-100</text>
<line x1="538.6" y1="369.6" x2="538.6" y2="372.6" stroke="#666" stroke-width="0.8"/>
<text x="538.6" y="384.5" font-family='"Liberation Sans", sans-serif' font-size="8.4" font-weight="normal" fill="#222" text-anchor="middle" textLength="3.6" lengthAdjust="spacingAndGlyphs">0</text>
<line x1="605.25" y1="369.6" x2="605.25" y2="372.6" stroke="#666" stroke-width="0.8"/>
<text x="605.25" y="384.5" font-family='"Liberation Sans", sans-serif' font-size="8.4" font-weight="normal" fill="#222" text-anchor="middle" textLength="10.8" lengthAdjust="spacingAndGlyphs">100</text>
<line x1="671.9" y1="369.6" x2="671.9" y2="372.6" stroke="#666" stroke-width="0.8"/>
<text x="671.9" y="384.5" font-family='"Liberation Sans", sans-serif' font-size="8.4" font-weight="normal" fill="#222" text-anchor="middle" textLength="10.8" lengthAdjust="spacingAndGlyphs">200</text>
<text x="498.7" y="396.6" font-family='"Liberation Sans", sans-serif' font-size="7.6" font-weight="normal" fill="#222" text-anchor="start" textLength="81" lengthAdjust="spacingAndGlyphs">Apparent Zeta Potential (mV)</text>
<text x="382.1" y="303.9" font-family='"Liberation Sans", sans-serif' font-size="7.6" font-weight="normal" fill="#444" text-anchor="middle" textLength="47.2" lengthAdjust="spacingAndGlyphs" transform="rotate(-90 382.1 303.9)">Total Counts</text>
<path d="M523.6 371.2 L525.2 368.5 L526.2 362 L526.9 345 L527.6 327 L528.5 300 L529.5 282.7 L530.6 262 L531.5 251 L532.1 244.7 L532.7 251 L533.5 262 L534.6 282.7 L535.4 300 L536.3 327 L537.2 345 L538.1 357 L539.2 365.5 L540.5 369.5 L542.5 371.2" stroke="#111" stroke-width="1.6" fill="none" stroke-linejoin="round" stroke-linecap="round"/>
<line x1="438.6" y1="371.2" x2="523.6" y2="371.2" stroke="#111" stroke-width="1.6"/>
<line x1="542.5" y1="371.2" x2="638.5" y2="371.2" stroke="#111" stroke-width="1.6"/>
<path d="M518.7 206.2 V223.5 H539.3 V206.2" stroke="#35a853" stroke-width="1" fill="#fff"/>
<text x="529.6" y="221.6" font-family='"Liberation Serif", serif' font-size="19.5" font-weight="bold" fill="#1fa347" text-anchor="middle" textLength="13.3" lengthAdjust="spacingAndGlyphs">D</text>
<text x="530.5" y="234.8" font-family='"Liberation Serif", serif' font-size="12" font-weight="bold" fill="#d8343c" text-anchor="middle" textLength="20.6" lengthAdjust="spacingAndGlyphs" stroke="#d8343c" stroke-width="0.35">-10.3</text></svg>
</body></html>
